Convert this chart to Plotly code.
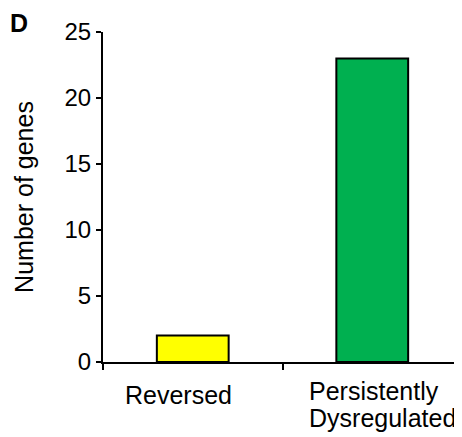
import plotly.graph_objects as go

categories = ["Reversed", "Persistently Dysregulated"]
values = [2, 23]
colors = ["#ffff00", "#00b050"]
y_ticks = [0, 5, 10, 15, 20, 25]

FONT = "Liberation Sans, Arial, sans-serif"

fig = go.Figure(
    go.Bar(
        x=categories,
        y=values,
        width=0.4,
        marker=dict(color=colors, line=dict(color="black", width=2)),
    )
)

# page body has an 8px margin, so the figure starts at (8, 8)
W, H = 454, 429
ml, mr, mt, mb = 95, 0, 24, 75

fig.update_layout(
    width=W,
    height=H,
    margin=dict(l=ml, r=mr, t=mt, b=mb, autoexpand=False),
    plot_bgcolor="white",
    paper_bgcolor="white",
    showlegend=False,
    font=dict(family=FONT, color="black"),
)

fig.update_xaxes(
    type="category",
    range=[-0.5, 1.5],
    automargin=False,
    showline=True,
    linecolor="black",
    linewidth=2,
    ticks="outside",
    tickson="boundaries",
    ticklen=6,
    tickwidth=2,
    tickcolor="black",
    showticklabels=False,
    showgrid=False,
    zeroline=False,
)

fig.update_yaxes(
    range=[0, 25],
    automargin=False,
    tickvals=y_ticks,
    showline=True,
    linecolor="black",
    linewidth=2,
    ticks="outside",
    ticklen=5,
    tickwidth=2,
    tickcolor="black",
    tickfont=dict(size=24, family=FONT),
    showgrid=False,
    zeroline=False,
    title=dict(text="Number of genes", font=dict(size=25, family=FONT), standoff=24),
)

# Category labels
fig.add_annotation(
    x=categories[0], y=0, xref="x", yref="paper",
    text="Reversed", showarrow=False,
    xanchor="center", yanchor="top", xshift=-14, yshift=-16.5,
    font=dict(size=25, family=FONT),
)
fig.add_annotation(
    x=categories[1], y=0, xref="x", yref="paper",
    text="Persistently", showarrow=False,
    xanchor="left", yanchor="top", xshift=-65, yshift=-13,
    font=dict(size=25, family=FONT),
)
fig.add_annotation(
    x=categories[1], y=0, xref="x", yref="paper",
    text="Dysregulated", showarrow=False,
    xanchor="left", yanchor="top", xshift=-65, yshift=-40,
    font=dict(size=25, family=FONT),
)

# Panel letter
fig.add_annotation(
    x=0, y=1, xref="paper", yref="paper",
    text="<b>D</b>", showarrow=False,
    xanchor="left", yanchor="top", xshift=-95, yshift=25,
    font=dict(size=25, family=FONT),
)

fig.write_html("out.html")
